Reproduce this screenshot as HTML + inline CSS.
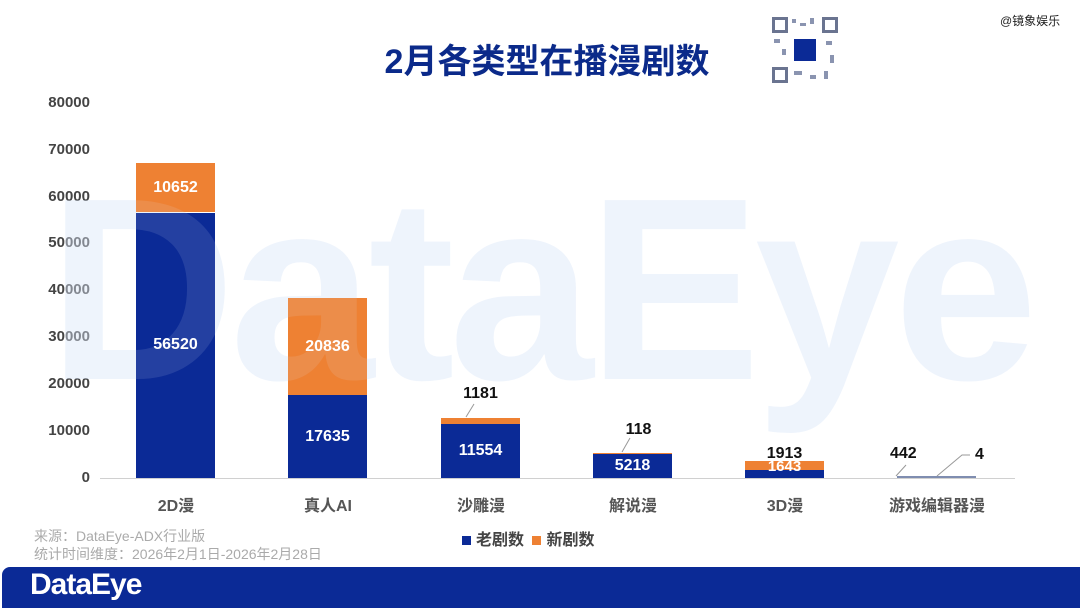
<!DOCTYPE html>
<html><head><meta charset="utf-8"><style>
body{margin:0;width:1080px;height:608px;background:#fff;position:relative;overflow:hidden;font-family:"Liberation Sans","Noto Sans CJK SC",sans-serif}
.a{position:absolute}
.yl{position:absolute;left:20px;width:70px;text-align:right;font-size:15px;font-weight:bold;color:#444}
.bar{position:absolute;width:79px}
.b{background:#0b2a96}.o{background:#ee8133}
.lbl{position:absolute;width:79px;text-align:center;font-size:16px;font-weight:bold}
.w{color:#fff}.k{color:#111}
.cat{position:absolute;top:492px;width:160px;text-align:center;font-size:16px;font-weight:bold;color:#555}
</style></head><body>
<div class="a" style="left:0;top:34px;width:1094px;text-align:center;font-size:34px;font-weight:bold;color:#0b2a8a">2月各类型在播漫剧数</div>
<svg class="a" style="left:770px;top:15px" width="70" height="70"><rect width="70" height="70" fill="#fff"/><g fill="#6a7490"><rect x="2" y="2" width="16" height="16"/><rect x="52" y="2" width="16" height="16"/><rect x="2" y="52" width="16" height="16"/></g><g fill="#fff"><rect x="5" y="5" width="10" height="10"/><rect x="55" y="5" width="10" height="10"/><rect x="5" y="55" width="10" height="10"/></g><g fill="#8a94b0"><rect x="22" y="4" width="4" height="4"/><rect x="30" y="8" width="6" height="3"/><rect x="40" y="3" width="4" height="6"/><rect x="4" y="24" width="6" height="4"/><rect x="12" y="34" width="4" height="6"/><rect x="56" y="26" width="6" height="4"/><rect x="60" y="40" width="4" height="8"/><rect x="24" y="56" width="8" height="4"/><rect x="40" y="60" width="6" height="4"/><rect x="54" y="56" width="4" height="8"/></g><rect x="24" y="24" width="22" height="22" fill="#0b2a96"/></svg>
<div class="a" style="left:1000px;top:12px;font-size:12px;color:#222">@镜象娱乐</div>
<div class="yl" style="top:94px">80000</div>
<div class="yl" style="top:141px">70000</div>
<div class="yl" style="top:188px">60000</div>
<div class="yl" style="top:234px">50000</div>
<div class="yl" style="top:281px">40000</div>
<div class="yl" style="top:328px">30000</div>
<div class="yl" style="top:375px">20000</div>
<div class="yl" style="top:422px">10000</div>
<div class="yl" style="top:469px">0</div>
<div class="a" style="left:100px;top:478px;width:915px;height:1px;background:#d0d0d0"></div>
<div class="a" style="left:0;top:160px;width:1080px;text-align:center;font-size:260px;font-weight:bold;color:rgba(215,228,248,0.35);letter-spacing:-6px;line-height:1">DataEye</div>
<div class="bar o" style="left:136px;top:163px;height:49px"></div>
<div class="bar b" style="left:136px;top:213px;height:265px"></div>
<div class="bar o" style="left:288px;top:298px;height:97px"></div>
<div class="bar b" style="left:288px;top:395px;height:83px"></div>
<div class="bar o" style="left:441px;top:418px;height:6px"></div>
<div class="bar b" style="left:441px;top:424px;height:54px"></div>
<div class="bar o" style="left:593px;top:453px;height:1px"></div>
<div class="bar b" style="left:593px;top:454px;height:24px"></div>
<div class="bar o" style="left:745px;top:461px;height:9px"></div>
<div class="bar b" style="left:745px;top:470px;height:8px"></div>
<div class="bar" style="left:897px;top:476px;height:2px;background:#7f8db0"></div>
<div class="a" style="left:0;top:160px;width:1080px;text-align:center;font-size:260px;font-weight:bold;color:rgba(220,230,250,0.12);letter-spacing:-6px;line-height:1">DataEye</div>
<div class="lbl w" style="left:136px;top:179px">10652</div>
<div class="lbl w" style="left:136px;top:336px">56520</div>
<div class="lbl w" style="left:288px;top:338px">20836</div>
<div class="lbl w" style="left:288px;top:428px">17635</div>
<div class="lbl k" style="left:441px;top:385px">1181</div>
<div class="lbl w" style="left:441px;top:442px">11554</div>
<div class="lbl k" style="left:599px;top:421px">118</div>
<div class="lbl w" style="left:593px;top:457px">5218</div>
<div class="lbl k" style="left:745px;top:445px">1913</div>
<div class="lbl w" style="left:745px;top:458px;font-size:15px">1643</div>
<div class="a k" style="left:890px;top:445px;font-size:16px;font-weight:bold">442</div>
<div class="a k" style="left:975px;top:446px;font-size:16px;font-weight:bold">4</div>
<svg class="a" style="left:0;top:0" width="1080" height="608"><g stroke="#999" fill="none"><path d="M474 404 L466 417"/><path d="M630 438 L622 452"/><path d="M906 465 L896 476"/><path d="M970 455 L962 455 L937 476"/></g></svg>
<div class="cat" style="left:96px">2D漫</div>
<div class="cat" style="left:248px">真人AI</div>
<div class="cat" style="left:401px">沙雕漫</div>
<div class="cat" style="left:553px">解说漫</div>
<div class="cat" style="left:705px">3D漫</div>
<div class="cat" style="left:857px">游戏编辑器漫</div>
<div class="a" style="left:462px;top:526px;font-size:16px;font-weight:bold;color:#444"><span style="display:inline-block;width:9px;height:9px;background:#0b2a96;margin-right:5px"></span>老剧数 <span style="display:inline-block;width:9px;height:9px;background:#ee8133;margin:0 5px 0 4px"></span>新剧数</div>
<div class="a" style="left:34px;top:527px;font-size:14px;color:#aaa;line-height:18px">来源：DataEye-ADX行业版<br>统计时间维度：2026年2月1日-2026年2月28日</div>
<div class="a" style="left:2px;top:567px;width:1078px;height:41px;background:#0b2a96;border-radius:8px 0 0 0"></div>
<div class="a" style="left:30px;top:568px;font-size:30px;font-weight:bold;color:#fff;letter-spacing:-1px">DataEye</div>
</body></html>
